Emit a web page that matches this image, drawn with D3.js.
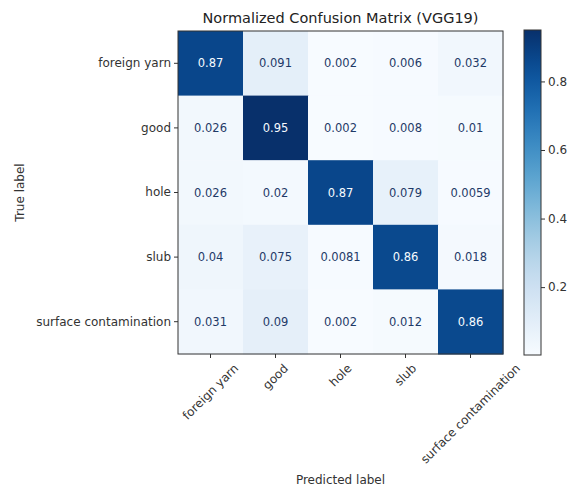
<!DOCTYPE html>
<html>
<head>
<meta charset="utf-8">
<script src="https://cdn.jsdelivr.net/npm/d3@7"></script>
<style>
  html, body { margin: 0; padding: 0; background: #fff; }
  svg { display: block; font-family: "DejaVu Sans", sans-serif; }
</style>
</head>
<body>
<svg id="chart" width="567" height="490"></svg>
<script>
// Class names (rows = true label, columns = predicted label)
const classes = ["foreign yarn", "good", "hole", "slub", "surface contamination"];

// Row-normalized confusion matrix values
const rowForeignYarn = [0.87, 0.091, 0.002, 0.006, 0.032];
const rowGood = [0.026, 0.95, 0.002, 0.008, 0.01];
const rowHole = [0.026, 0.02, 0.87, 0.079, 0.0059];
const rowSlub = [0.04, 0.075, 0.0081, 0.86, 0.018];
const rowSurface = [0.031, 0.09, 0.002, 0.012, 0.86];
const matrix = [rowForeignYarn, rowGood, rowHole, rowSlub, rowSurface];

const colorbarTicks = [0.2, 0.4, 0.6, 0.8];

const titleText = "Normalized Confusion Matrix (VGG19)";
const xLabelText = "Predicted label";
const yLabelText = "True label";

const svg = d3.select("#chart");

const plot = { left: 178, top: 31, right: 503, bottom: 354 };
const cbar = { left: 524, right: 541, top: 30, bottom: 355 };

const cells = [];
matrix.forEach((row, i) => row.forEach((v, j) => cells.push({ i, j, v })));

const vExtent = d3.extent(cells, d => d.v);
const norm = d3.scaleLinear().domain(vExtent).range([0, 1]).clamp(true);
const color = v => d3.interpolateBlues(norm(v));
const threshold = (vExtent[0] + vExtent[1]) / 2;

const x = d3.scaleBand().domain(d3.range(classes.length)).range([plot.left, plot.right]);
const y = d3.scaleBand().domain(d3.range(classes.length)).range([plot.top, plot.bottom]);

// Heatmap cells
svg.append("g").selectAll("rect").data(cells).join("rect")
  .attr("x", d => x(d.j))
  .attr("y", d => y(d.i))
  .attr("width", x.bandwidth() + 0.5)
  .attr("height", y.bandwidth() + 0.5)
  .attr("fill", d => color(d.v));

// Cell value annotations (two significant digits, trailing zeros dropped)
svg.append("g").selectAll("text").data(cells).join("text")
  .attr("x", d => x(d.j) + x.bandwidth() / 2)
  .attr("y", d => y(d.i) + y.bandwidth() / 2)
  .attr("text-anchor", "middle")
  .attr("dominant-baseline", "central")
  .attr("font-size", 11.5)
  .attr("fill", d => d.v > threshold ? "#f7fbff" : "#1f3a68")
  .text(d => d3.format(".2~g")(d.v));

// Frame around the matrix
svg.append("rect")
  .attr("x", plot.left).attr("y", plot.top)
  .attr("width", plot.right - plot.left).attr("height", plot.bottom - plot.top)
  .attr("fill", "none").attr("stroke", "#333").attr("stroke-width", 1);

// Y axis
const yAxis = svg.append("g")
  .attr("transform", `translate(${plot.left},0)`)
  .call(d3.axisLeft(y).tickSize(4).tickPadding(3).tickFormat(i => classes[i]));
yAxis.select(".domain").remove();
yAxis.selectAll("line").attr("stroke", "#333");
yAxis.selectAll("text").attr("font-size", 12).attr("fill", "#333").attr("font-family", "DejaVu Sans");

// X axis with rotated labels centred under each tick
const xAxis = svg.append("g")
  .attr("transform", `translate(0,${plot.bottom})`)
  .call(d3.axisBottom(x).tickSize(4).tickFormat(i => classes[i]));
xAxis.select(".domain").remove();
xAxis.selectAll("line").attr("stroke", "#333");
xAxis.selectAll("text")
  .attr("font-size", 12).attr("fill", "#333").attr("font-family", "DejaVu Sans")
  .attr("dy", null)
  .attr("text-anchor", "middle")
  .attr("dominant-baseline", "central")
  .each(function () {
    const t = d3.select(this);
    const w = this.getComputedTextLength();
    const h = 12;
    const half = (w + h) / (2 * Math.SQRT2);
    const cy = 8 + half;
    t.attr("y", 0).attr("transform", `translate(0,${cy}) rotate(-45)`);
  });

// Title and axis labels
svg.append("text")
  .attr("x", (plot.left + plot.right) / 2).attr("y", 23)
  .attr("text-anchor", "middle").attr("font-size", 14.5).attr("fill", "#222")
  .text(titleText);

svg.append("text")
  .attr("x", (plot.left + plot.right) / 2).attr("y", 484)
  .attr("text-anchor", "middle").attr("font-size", 12).attr("fill", "#333")
  .text(xLabelText);

svg.append("text")
  .attr("transform", `translate(24,${(plot.top + plot.bottom) / 2}) rotate(-90)`)
  .attr("text-anchor", "middle").attr("font-size", 12).attr("fill", "#333")
  .text(yLabelText);

// Colorbar
const defs = svg.append("defs");
const grad = defs.append("linearGradient").attr("id", "cbarGrad")
  .attr("x1", 0).attr("y1", 1).attr("x2", 0).attr("y2", 0);
d3.range(0, 1.0001, 0.05).forEach(t => {
  grad.append("stop").attr("offset", t).attr("stop-color", d3.interpolateBlues(t));
});

svg.append("rect")
  .attr("x", cbar.left).attr("y", cbar.top)
  .attr("width", cbar.right - cbar.left).attr("height", cbar.bottom - cbar.top)
  .attr("fill", "url(#cbarGrad)").attr("stroke", "#333").attr("stroke-width", 1);

const cbScale = d3.scaleLinear().domain(vExtent).range([cbar.bottom, cbar.top]);
const cbAxis = svg.append("g")
  .attr("transform", `translate(${cbar.right},0)`)
  .call(d3.axisRight(cbScale).tickValues(colorbarTicks).tickSize(4).tickPadding(3).tickFormat(d3.format(".1f")));
cbAxis.select(".domain").remove();
cbAxis.selectAll("line").attr("stroke", "#333");
cbAxis.selectAll("text").attr("font-size", 12).attr("fill", "#333").attr("font-family", "DejaVu Sans");
</script>
</body>
</html>
